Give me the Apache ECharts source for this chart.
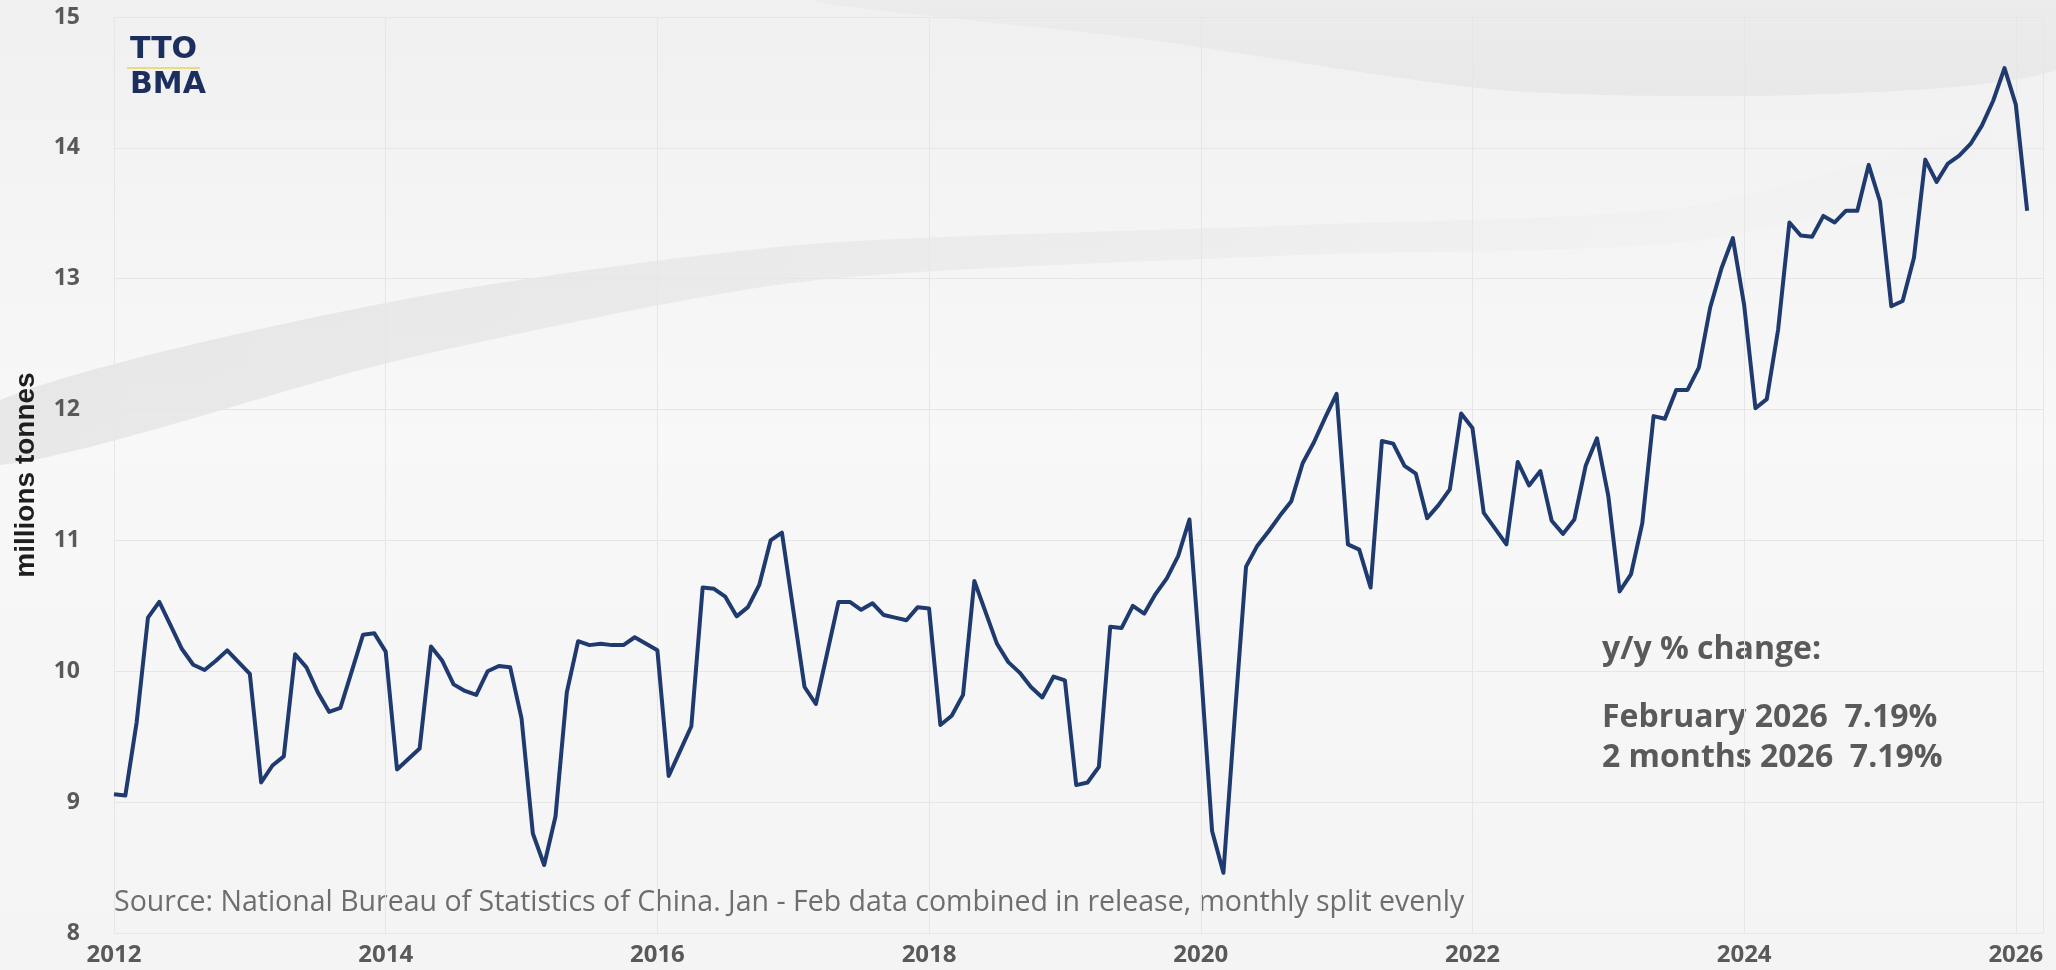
<!DOCTYPE html>
<html>
<head>
<meta charset="utf-8">
<script src="https://cdn.jsdelivr.net/npm/echarts@6/dist/echarts.min.js"></script>
<style>
  html, body { margin: 0; padding: 0; background: #f4f4f4; }
  #chart { width: 2056px; height: 970px; }
</style>
</head>
<body>
<div id="chart"></div>
<script>
// monthly output, millions tonnes (Jan..Dec)
const v2012 = [9.06, 9.05, 9.61, 10.41, 10.53, 10.35, 10.17, 10.05, 10.01, 10.08, 10.16, 10.07];
const v2013 = [9.98, 9.15, 9.28, 9.35, 10.13, 10.03, 9.84, 9.69, 9.72, 10.00, 10.28, 10.29];
const v2014 = [10.15, 9.25, 9.33, 9.41, 10.19, 10.08, 9.90, 9.85, 9.82, 10.00, 10.04, 10.03];
const v2015 = [9.64, 8.76, 8.52, 8.89, 9.84, 10.23, 10.20, 10.21, 10.20, 10.20, 10.26, 10.21];
const v2016 = [10.16, 9.20, 9.39, 9.58, 10.64, 10.63, 10.57, 10.42, 10.49, 10.66, 11.00, 11.06];
const v2017 = [10.47, 9.88, 9.75, 10.14, 10.53, 10.53, 10.47, 10.52, 10.43, 10.41, 10.39, 10.49];
const v2018 = [10.48, 9.59, 9.66, 9.82, 10.69, 10.45, 10.21, 10.07, 9.99, 9.88, 9.80, 9.96];
const v2019 = [9.93, 9.13, 9.15, 9.27, 10.34, 10.33, 10.50, 10.44, 10.59, 10.71, 10.88, 11.16];
const v2020 = [10.03, 8.78, 8.46, 9.65, 10.80, 10.96, 11.07, 11.19, 11.30, 11.59, 11.75, 11.94];
const v2021 = [12.12, 10.97, 10.93, 10.64, 11.76, 11.74, 11.57, 11.51, 11.17, 11.27, 11.39, 11.97];
const v2022 = [11.86, 11.21, 11.09, 10.97, 11.60, 11.42, 11.53, 11.15, 11.05, 11.16, 11.57, 11.78];
const v2023 = [11.34, 10.61, 10.74, 11.13, 11.95, 11.93, 12.15, 12.15, 12.32, 12.78, 13.08, 13.31];
const v2024 = [12.80, 12.01, 12.08, 12.61, 13.43, 13.33, 13.32, 13.48, 13.43, 13.52, 13.52, 13.87];
const v2025 = [13.59, 12.79, 12.83, 13.16, 13.91, 13.74, 13.88, 13.94, 14.03, 14.17, 14.36, 14.61];
const v2026 = [14.33, 13.52];

const firstYear = 2012;
const yearly = [v2012, v2013, v2014, v2015, v2016, v2017, v2018, v2019,
                v2020, v2021, v2022, v2023, v2024, v2025, v2026];

const yTicks = [8, 9, 10, 11, 12, 13, 14, 15];
const xTicks = [2012, 2014, 2016, 2018, 2020, 2022, 2024, 2026];

const noteLines = ['y/y % change:', 'February 2026  7.19%', '2 months 2026  7.19%'];
const sourceText = 'Source: National Bureau of Statistics of China. Jan - Feb data combined in release, monthly split evenly';

// [decimal year, value]
const seriesData = [];
yearly.forEach((arr, k) => {
  arr.forEach((v, i) => {
    seriesData.push([firstYear + k + i / 12, v]);
  });
});

const chart = echarts.init(document.getElementById('chart'));
const font = "'Open Sans', 'Noto Sans', sans-serif";

const option = {
  backgroundColor: {
    type: 'linear', x: 0, y: 0, x2: 0, y2: 1,
    colorStops: [
      {offset: 0, color: '#f0f0f0'},
      {offset: 0.45, color: '#f8f8f8'},
      {offset: 1, color: '#f4f4f4'}
    ]
  },
  animation: false,
  grid: {left: 114, right: 13, top: 17, bottom: 37},
  graphic: [
    // background swooshes
    {
      type: 'polygon', z: -10, silent: true,
      shape: {
        points: [[0, 400], [400, 300], [800, 245], [1300, 225], [1700, 205], [2056, 110],
                 [2056, 150], [1700, 240], [1300, 255], [800, 282], [400, 360], [0, 465]],
        smooth: 0.25
      },
      style: {
        fill: {
          type: 'linear', x: 0, y: 0, x2: 1, y2: 0,
          colorStops: [
            {offset: 0, color: 'rgba(0,0,0,0.065)'},
            {offset: 0.45, color: 'rgba(0,0,0,0.04)'},
            {offset: 0.75, color: 'rgba(0,0,0,0.015)'},
            {offset: 1, color: 'rgba(0,0,0,0.0)'}
          ]
        }
      }
    },
    {
      type: 'polygon', z: -10, silent: true,
      shape: {
        points: [[820, 0], [1150, 40], [1500, 90], [1800, 95], [2056, 70], [2056, 0]],
        smooth: 0.25
      },
      style: {
        fill: {
          type: 'linear', x: 0, y: 0, x2: 0, y2: 1,
          colorStops: [
            {offset: 0, color: 'rgba(0,0,0,0.015)'},
            {offset: 1, color: 'rgba(0,0,0,0.04)'}
          ]
        }
      }
    },
    // logo
    {
      type: 'text', left: 130, top: 35,
      style: {text: 'TTO', fontSize: 30, fontWeight: 'bold', fontFamily: 'DejaVu Sans', fill: '#1c2e5e'}
    },
    {
      type: 'line', shape: {x1: 127, y1: 68, x2: 200, y2: 68},
      style: {stroke: '#e6d45a', lineWidth: 1.5}
    },
    {
      type: 'text', left: 130, top: 70,
      style: {text: 'BMA', fontSize: 30, fontWeight: 'bold', fontFamily: 'DejaVu Sans', fill: '#1c2e5e'}
    },
    // y/y note
    {
      type: 'text', x: 1602, y: 650,
      style: {text: noteLines[0], fontSize: 32, fontWeight: 'bold', fontFamily: font, fill: '#5a5a5a', verticalAlign: 'middle'}
    },
    {
      type: 'text', x: 1602, y: 718,
      style: {text: noteLines[1], fontSize: 32, fontWeight: 'bold', fontFamily: font, fill: '#5a5a5a', verticalAlign: 'middle'}
    },
    {
      type: 'text', x: 1602, y: 758,
      style: {text: noteLines[2], fontSize: 32, fontWeight: 'bold', fontFamily: font, fill: '#5a5a5a', verticalAlign: 'middle'}
    },
    // source
    {
      type: 'text', x: 114, y: 903,
      style: {text: sourceText, fontSize: 28.5, fontFamily: font, fill: '#6e6e6e', verticalAlign: 'middle'}
    }
  ],
  xAxis: {
    type: 'value',
    min: 2012,
    max: 2026.2,
    interval: 2,
    axisLine: {show: false},
    axisTick: {show: false},
    axisLabel: {
      margin: 10,
      color: '#595959',
      fontSize: 24,
      fontWeight: 'bold',
      fontFamily: font,
      showMaxLabel: false,
      formatter: (v) => xTicks.indexOf(Math.round(v * 100) / 100) >= 0 ? String(v) : ''
    },
    splitLine: {show: true, lineStyle: {color: '#e6e6e6', width: 1}}
  },
  yAxis: {
    type: 'value',
    min: 8,
    max: 15,
    interval: 1,
    name: 'millions tonnes',
    nameLocation: 'middle',
    nameGap: 74,
    nameTextStyle: {fontSize: 28, fontWeight: 'bold', color: '#1e1e1e', fontFamily: "'Liberation Sans', sans-serif"},
    axisLine: {show: false},
    axisTick: {show: false},
    axisLabel: {
      margin: 34,
      color: '#595959',
      fontSize: 23,
      fontWeight: 'bold',
      fontFamily: font,
      formatter: (v) => yTicks.indexOf(v) >= 0 ? String(v) : ''
    },
    splitLine: {show: true, lineStyle: {color: '#e6e6e6', width: 1}}
  },
  series: [
    {
      type: 'line',
      data: seriesData,
      showSymbol: false,
      lineStyle: {color: '#1f3a6e', width: 4, join: 'round'},
      itemStyle: {color: '#1f3a6e'}
    }
  ]
};

chart.setOption(option);
</script>
</body>
</html>
